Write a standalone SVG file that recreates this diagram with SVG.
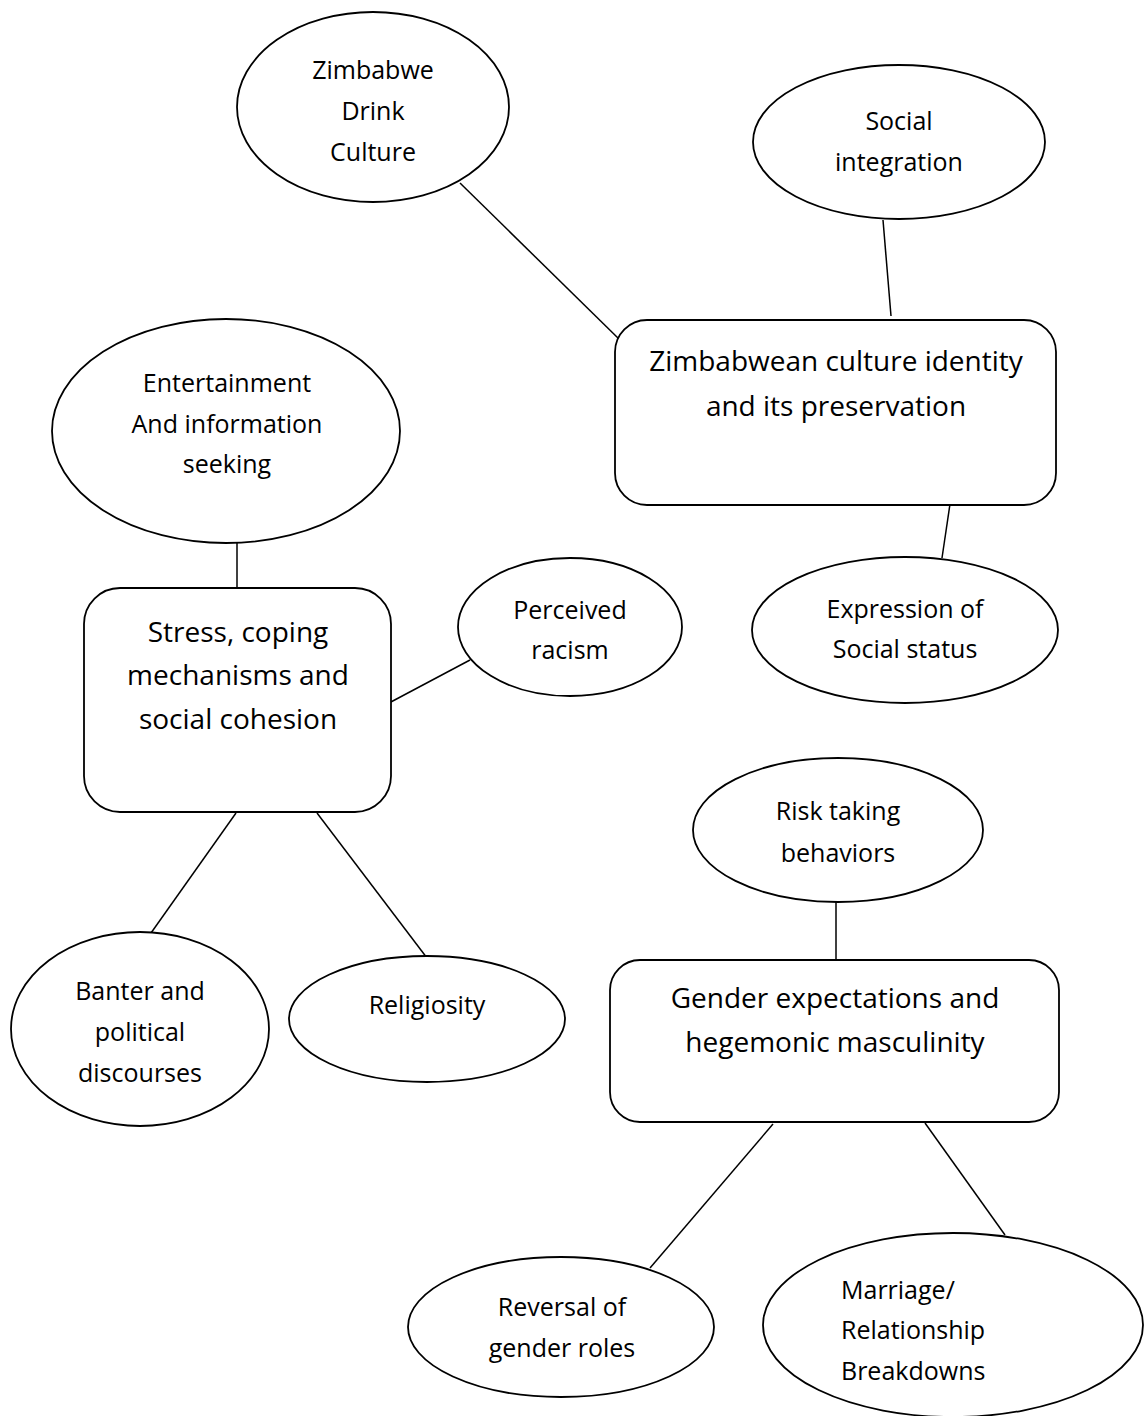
<svg xmlns="http://www.w3.org/2000/svg" width="1144" height="1416" viewBox="0 0 1144 1416">
<style>
  .n { fill: #fff; stroke: #000; stroke-width: 1.8; }
  .t { font-family: "Open Sans", "Noto Sans", "Liberation Sans", sans-serif; font-size: 25px; fill: #000; text-anchor: middle; }
  .L { font-size: 28px; }
  .s { text-anchor: start; }
  .c line { stroke: #000; stroke-width: 1.5; }
</style>
<rect width="1144" height="1416" fill="#fff"/>
<g class="c" id="connectors">
  <line x1="460" y1="183" x2="620" y2="340"/>
  <line x1="883" y1="220" x2="891" y2="316"/>
  <line x1="950" y1="504" x2="942" y2="558"/>
  <line x1="237" y1="543" x2="237" y2="588"/>
  <line x1="389" y1="703" x2="470" y2="660"/>
  <line x1="236" y1="813" x2="151" y2="933"/>
  <line x1="317" y1="813" x2="427" y2="958"/>
  <line x1="836" y1="902" x2="836" y2="960"/>
  <line x1="773" y1="1124" x2="650" y2="1268"/>
  <line x1="925" y1="1123" x2="1005" y2="1235"/>
</g>
<g id="zimbabwe-drink">
  <ellipse class="n" cx="373" cy="107" rx="136" ry="95"/>
  <text class="t" x="373" y="79">Zimbabwe</text>
  <text class="t" x="373" y="120">Drink</text>
  <text class="t" x="373" y="161">Culture</text>
</g>
<g id="social-integration">
  <ellipse class="n" cx="899" cy="142" rx="146" ry="77"/>
  <text class="t" x="899" y="130">Social</text>
  <text class="t" x="899" y="171">integration</text>
</g>
<g id="culture-identity">
  <rect class="n" x="615" y="320" width="441" height="185" rx="32"/>
  <text class="t L" x="836" y="371">Zimbabwean culture identity</text>
  <text class="t L" x="836" y="416">and its preservation</text>
</g>
<g id="entertainment">
  <ellipse class="n" cx="226" cy="431" rx="174" ry="112"/>
  <text class="t" x="227" y="392">Entertainment</text>
  <text class="t" x="227" y="433">And information</text>
  <text class="t" x="227" y="473">seeking</text>
</g>
<g id="stress">
  <rect class="n" x="84" y="588" width="307" height="224" rx="36"/>
  <text class="t L" x="238" y="642">Stress, coping</text>
  <text class="t L" x="238" y="685">mechanisms and</text>
  <text class="t L" x="238" y="729">social cohesion</text>
</g>
<g id="perceived-racism">
  <ellipse class="n" cx="570" cy="627" rx="112" ry="69"/>
  <text class="t" x="570" y="619">Perceived</text>
  <text class="t" x="570" y="659">racism</text>
</g>
<g id="social-status">
  <ellipse class="n" cx="905" cy="630" rx="153" ry="73"/>
  <text class="t" x="905" y="618">Expression of</text>
  <text class="t" x="905" y="658">Social status</text>
</g>
<g id="risk-taking">
  <ellipse class="n" cx="838" cy="830" rx="145" ry="72"/>
  <text class="t" x="838" y="820">Risk taking</text>
  <text class="t" x="838" y="862">behaviors</text>
</g>
<g id="gender-expectations">
  <rect class="n" x="610" y="960" width="449" height="162" rx="30"/>
  <text class="t L" x="835" y="1008">Gender expectations and</text>
  <text class="t L" x="835" y="1052">hegemonic masculinity</text>
</g>
<g id="banter">
  <ellipse class="n" cx="140" cy="1029" rx="129" ry="97"/>
  <text class="t" x="140" y="1000">Banter and</text>
  <text class="t" x="140" y="1041">political</text>
  <text class="t" x="140" y="1082">discourses</text>
</g>
<g id="religiosity">
  <ellipse class="n" cx="427" cy="1019" rx="138" ry="63"/>
  <text class="t" x="427" y="1014">Religiosity</text>
</g>
<g id="reversal">
  <ellipse class="n" cx="561" cy="1327" rx="153" ry="70"/>
  <text class="t" x="562" y="1316">Reversal of</text>
  <text class="t" x="562" y="1357">gender roles</text>
</g>
<g id="marriage">
  <ellipse class="n" cx="953" cy="1325" rx="190" ry="92"/>
  <text class="t s" x="841" y="1299">Marriage/</text>
  <text class="t s" x="841" y="1339">Relationship</text>
  <text class="t s" x="841" y="1380">Breakdowns</text>
</g>
</svg>
